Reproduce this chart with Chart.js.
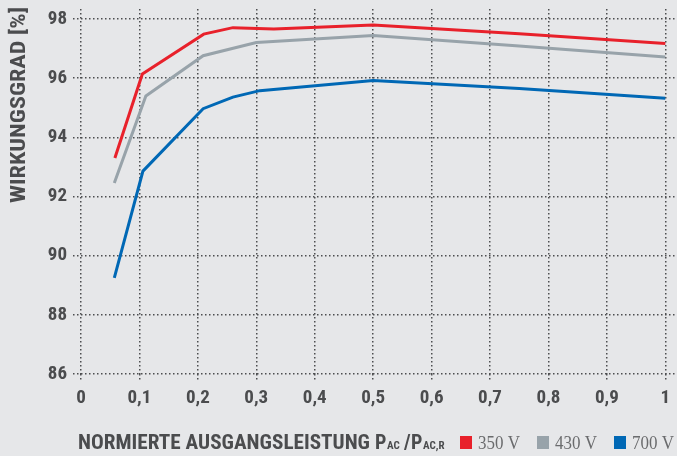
<!DOCTYPE html>
<html><head><meta charset="utf-8">
<script src="https://cdn.jsdelivr.net/npm/chart.js@4/dist/chart.umd.min.js"></script>
<style>html,body{margin:0;padding:0;background:#e6e7e9;}#wrap{width:677px;height:456px;}</style>
</head><body><div id="wrap"><canvas id="c" width="677" height="456"></canvas></div>
<script>
const seriesLabels = ['350 V', '430 V', '700 V'];
const seriesColors = ['#e8212b', '#98a3aa', '#0068b5'];
const x350 = [0.058, 0.105, 0.21, 0.26, 0.33, 0.5, 0.75, 1.0];
const y350 = [93.30, 96.14, 97.49, 97.71, 97.66, 97.80, 97.50, 97.17];
const x430 = [0.057, 0.111, 0.209, 0.30, 0.5, 0.75, 1.0];
const y430 = [92.46, 95.40, 96.76, 97.21, 97.44, 97.09, 96.72];
const x700 = [0.057, 0.106, 0.209, 0.26, 0.306, 0.5, 0.75, 1.0];
const y700 = [89.25, 92.86, 94.97, 95.36, 95.58, 95.92, 95.65, 95.32];
const xTicks = [0, 0.1, 0.2, 0.3, 0.4, 0.5, 0.6, 0.7, 0.8, 0.9, 1];
const yTicks = [86, 88, 90, 92, 94, 96, 98];
const yTitle = 'WIRKUNGSGRAD [%]';
const xTitle = 'NORMIERTE AUSGANGSLEISTUNG';

const boldFont = "'Liberation Sans Narrow', 'Roboto Condensed', Roboto, sans-serif";
const textColor = '#4b4c4e';
const pts = (xs, ys) => xs.map((x, i) => ({x, y: ys[i]}));

const extras = {
  id: 'extras',
  afterDraw(chart) {
    const ctx = chart.ctx;
    ctx.save();
    ctx.fillStyle = textColor;
    ctx.font = "bold 20px " + boldFont;
    ctx.translate(25, 203);
    ctx.rotate(-Math.PI / 2);
    let w = ctx.measureText(yTitle).width;
    ctx.scale(196 / w, 1);
    ctx.textBaseline = 'alphabetic';
    ctx.fillText(yTitle, 0, 0);
    ctx.restore();

    ctx.save();
    ctx.fillStyle = textColor;
    ctx.font = "bold 20px " + boldFont;
    ctx.textBaseline = 'alphabetic';
    w = ctx.measureText(xTitle).width;
    ctx.save();
    ctx.translate(78, 449);
    ctx.scale(292 / w, 1);
    ctx.fillText(xTitle, 0, 0);
    ctx.restore();
    const parts = [['P', 20, 375], ['AC', 11, 387], ['/', 20, 404], ['P', 20, 411], ['AC,R', 11, 423]];
    parts.forEach(([t, fs, x]) => {
      ctx.font = "bold " + fs + "px " + boldFont;
      ctx.fillText(t, x, 449);
    });
    ctx.restore();

    ctx.save();
    ctx.font = "18px 'Liberation Serif', 'DejaVu Serif', serif";
    ctx.textBaseline = 'alphabetic';
    const boxX = [460, 537, 614];
    chart.data.datasets.forEach((ds, i) => {
      ctx.fillStyle = ds.borderColor;
      ctx.fillRect(boxX[i], 436, 12, 13);
      ctx.fillStyle = '#6a6b6d';
      const tw = ctx.measureText(ds.label).width;
      ctx.save();
      ctx.translate(boxX[i] + 18, 449);
      ctx.scale(42 / tw, 1);
      ctx.fillText(ds.label, 0, 0);
      ctx.restore();
    });
    ctx.restore();
  }
};

const gridOpts = {
  color: '#4d4e50',
  lineWidth: 1.5,
  drawTicks: true,
  tickColor: '#4d4e50',
  tickWidth: 1.5,
  tickBorderDash: [1.5, 2.5],
};

new Chart(document.getElementById('c'), {
  type: 'line',
  data: {
    datasets: [
      {label: seriesLabels[0], data: pts(x350, y350), borderColor: seriesColors[0], backgroundColor: seriesColors[0]},
      {label: seriesLabels[1], data: pts(x430, y430), borderColor: seriesColors[1], backgroundColor: seriesColors[1]},
      {label: seriesLabels[2], data: pts(x700, y700), borderColor: seriesColors[2], backgroundColor: seriesColors[2]},
    ].map(d => Object.assign(d, {borderWidth: 3, pointRadius: 0, tension: 0, fill: false}))
  },
  options: {
    responsive: false,
    animation: false,
    layout: {padding: {top: 9, right: 0, left: 0, bottom: 0}},
    plugins: {legend: {display: false}, tooltip: {enabled: false}},
    scales: {
      x: {
        type: 'linear', min: 0, max: 1.02,
        border: {display: false, dash: [1.5, 2.5]},
        grid: Object.assign({}, gridOpts, {tickLength: 7}),
        afterBuildTicks: s => { s.ticks = xTicks.map(v => ({value: v})); },
        afterFit: s => { s.height = 82; s.paddingLeft = 0; s.paddingRight = 0; },
        ticks: {
          padding: 6, color: textColor,
          font: {family: boldFont, size: 19, weight: 'bold'},
          callback: v => String(v).replace('.', ','),
          maxRotation: 0, autoSkip: false
        }
      },
      y: {
        type: 'linear', min: 86, max: 98.34,
        border: {display: false, dash: [1.5, 2.5]},
        grid: Object.assign({}, gridOpts, {tickLength: 8}),
        afterBuildTicks: s => { s.ticks = yTicks.map(v => ({value: v})); },
        afterFit: s => { s.width = 81; s.paddingTop = 0; s.paddingBottom = 0; },
        ticks: {
          padding: 6, color: textColor,
          font: {family: boldFont, size: 19, weight: 'bold'},
          autoSkip: false
        }
      }
    }
  },
  plugins: [extras]
});
</script>
</body></html>
